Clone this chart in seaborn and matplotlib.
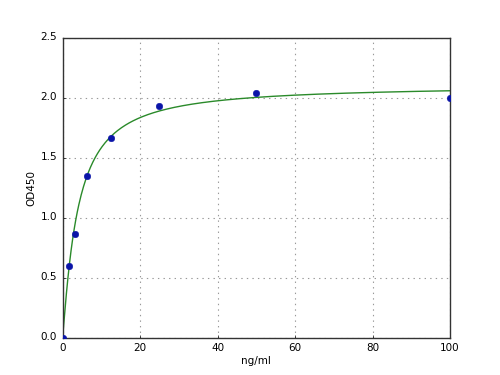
import numpy as np
import pandas as pd
import matplotlib
matplotlib.use("Agg")
import matplotlib.pyplot as plt
import seaborn as sns

conc = [0, 1.56, 3.125, 6.25, 12.5, 25, 50, 100]
od450 = [0.0, 0.60, 0.86, 1.35, 1.66, 1.93, 2.04, 2.00]
xticks = [0, 20, 40, 60, 80, 100]
yticks = [0.0, 0.5, 1.0, 1.5, 2.0, 2.5]

plt.style.use("classic")
df = pd.DataFrame({"ng/ml": conc, "OD450": od450})

# fitted curve (least-squares Hill fit of the standard points)
x = np.array(conc, float)
y = np.array(od450, float)
best = None
for c in np.linspace(1, 15, 281):
    for h in np.linspace(0.6, 1.6, 101):
        f = x**h / (c**h + x**h)
        d = (f @ y) / (f @ f)
        err = np.sum((d * f - y) ** 2)
        if best is None or err < best[0]:
            best = (err, c, h, d)
_, c, h, d = best
xs = np.linspace(0, 100, 500)
fit = pd.DataFrame({"ng/ml": xs, "OD450": d * xs**h / (c**h + xs**h)})

fig = plt.figure(figsize=(5, 3.75), dpi=100, facecolor="white")
ax = fig.add_subplot(111)
fig.subplots_adjust(left=0.125, right=0.9, bottom=0.1, top=0.9)
sns.lineplot(data=fit, x="ng/ml", y="OD450", ax=ax, color="#2a8a2a", linewidth=1.0)
sns.scatterplot(data=df, x="ng/ml", y="OD450", ax=ax, color="#0a14a8", s=22,
                edgecolor="#0a14a8", zorder=3)
for coll in ax.collections:
    coll.set_clip_on(True)
    coll.set_clip_path(ax.patch)
ax.set_xlim(0, 100)
ax.set_ylim(0, 2.5)
ax.set_xticks(xticks)
ax.set_yticks(yticks)
ax.set_yticklabels([f"{v:.1f}" for v in yticks])
ax.grid(True, linestyle=":", color="#999999", linewidth=0.8)
ax.set_axisbelow(True)
ax.tick_params(labelsize=7.5, direction="in", top=False, right=False, length=2, pad=4)
ax.set_xlabel("ng/ml", fontsize=7.5, labelpad=2)
ax.set_ylabel("OD450", fontsize=7.5, labelpad=3)
for s in ax.spines.values():
    s.set_color("#333333")
fig.savefig("out.png", dpi=100, facecolor="white")
